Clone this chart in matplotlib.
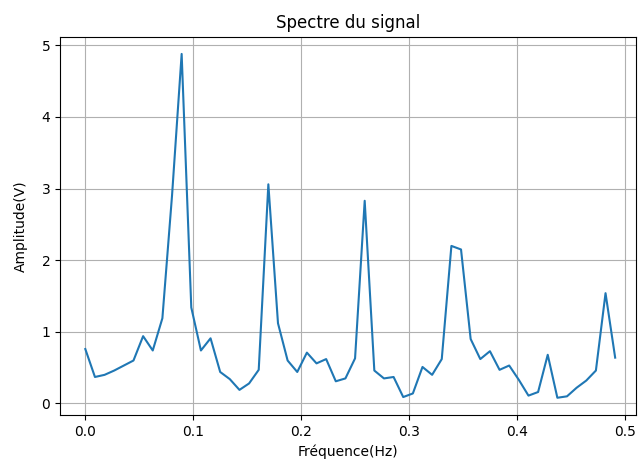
import matplotlib
matplotlib.use('Agg')
import matplotlib.pyplot as plt
import numpy as np

# fréquences k/112 (k = 0..55)
n_pts = 56
freq = np.arange(n_pts) / 112

# amplitudes
ampl = [0.76, 0.37, 0.40, 0.46, 0.53, 0.60, 0.94, 0.74, 1.19, 2.90,
        4.88, 1.34, 0.74, 0.91, 0.44, 0.34, 0.19, 0.28, 0.47, 3.06,
        1.12, 0.60, 0.44, 0.71, 0.56, 0.62, 0.31, 0.35, 0.63, 2.83,
        0.46, 0.35, 0.37, 0.09, 0.14, 0.51, 0.40, 0.62, 2.20, 2.15,
        0.90, 0.62, 0.73, 0.47, 0.53, 0.33, 0.11, 0.16, 0.68, 0.08,
        0.10, 0.22, 0.32, 0.46, 1.54, 0.64]

fig = plt.figure(figsize=(6.39, 4.71), dpi=100)
ax = fig.add_axes([0.094, 0.119, 0.901, 0.803])

ax.plot(freq, ampl)
ax.set_title('Spectre du signal')
ax.set_xlabel('Fréquence(Hz)')
ax.set_ylabel('Amplitude(V)', labelpad=10)
ax.set_xlim(-0.0234, 0.5102)
ax.grid(True)

fig.savefig('out.png', dpi=100)
